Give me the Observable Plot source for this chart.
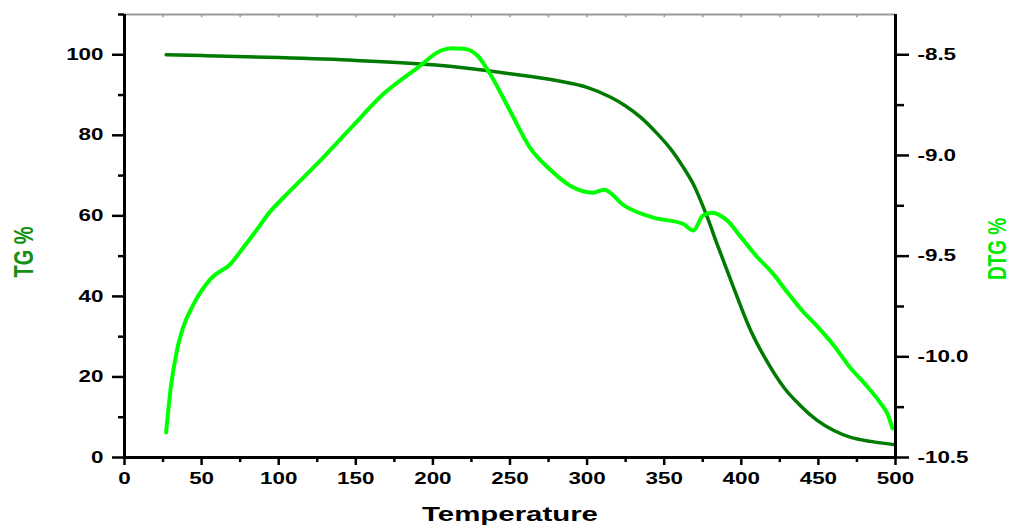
<!DOCTYPE html>
<html>
<head>
<meta charset="utf-8">
<script src="https://cdn.jsdelivr.net/npm/d3@7"></script>
<script src="https://cdn.jsdelivr.net/npm/@observablehq/plot@0.6"></script>
<style>
  html, body { margin: 0; padding: 0; background: #fff; }
</style>
</head>
<body>
<div id="chart"></div>
<script>
// TG curve (temperature, TG %)
const tgTemp = [27, 50, 100, 150, 200, 250, 280, 300, 315, 325, 335, 345, 355, 362, 369, 378, 384, 395, 406, 418, 428, 438, 449, 460, 471, 484, 499];
const tgVal  = [100, 99.8, 99.3, 98.6, 97.5, 95.3, 93.6, 91.9, 89.5, 87.3, 84.4, 80.6, 76.2, 72.3, 67.8, 59.6, 53.3, 42.2, 31.6, 23.0, 17.2, 13.0, 9.3, 6.7, 5.0, 4.0, 3.2];

// DTG curve (temperature, DTG %)
const dtgTemp = [27, 30, 34, 38, 45, 56, 69, 77, 84, 95, 103, 125, 147, 168, 190, 205, 212, 220, 229, 237, 250, 263, 276, 289, 304, 311, 324, 343, 362, 369, 375, 381, 391, 400, 410, 420, 430, 440, 450, 460, 470, 480, 490, 495, 498];
const dtgVal  = [-10.376, -10.153, -9.969, -9.855, -9.736, -9.612, -9.537, -9.458, -9.388, -9.274, -9.210, -9.041, -8.862, -8.694, -8.565, -8.480, -8.468, -8.470, -8.505, -8.594, -8.778, -8.962, -9.070, -9.150, -9.185, -9.170, -9.249, -9.309, -9.339, -9.373, -9.299, -9.284, -9.324, -9.408, -9.502, -9.582, -9.681, -9.775, -9.855, -9.944, -10.048, -10.133, -10.227, -10.287, -10.356];

// tick values
const xMajor = [0, 50, 100, 150, 200, 250, 300, 350, 400, 450, 500];
const xMinor = [25, 75, 125, 175, 225, 275, 325, 375, 425, 475];
const tgMajor = [0, 20, 40, 60, 80, 100];
const tgMinor = [10, 30, 50, 70, 90, 110];
const dtgMajor = [-10.5, -10.0, -9.5, -9.0, -8.5];
const dtgMinor = [-10.25, -9.75, -9.25, -8.75];

// DTG range mapped on the TG axis range
const dtgLo = -10.5, dtgHi = -8.3, tgLo = 0, tgHi = 110;
const toTG = d => (d - dtgLo) / (dtgHi - dtgLo) * (tgHi - tgLo) + tgLo;
const fromTG = t => (t - tgLo) / (tgHi - tgLo) * (dtgHi - dtgLo) + dtgLo;

const tgData = tgTemp.map((t, i) => ({t, v: tgVal[i]}));
const dtgData = dtgTemp.map((t, i) => ({t, v: toTG(dtgVal[i])}));

const chart = Plot.plot({
  width: 1012,
  height: 526,
  marginLeft: 124,
  marginRight: 117,
  marginTop: 14,
  marginBottom: 69,
  x: {domain: [0, 500]},
  y: {domain: [tgLo, tgHi]},
  style: {fontFamily: "'Liberation Sans', Arial, sans-serif", fontWeight: "bold", fontSize: "16px", color: "black", background: "white"},
  marks: [
    // top frame
    Plot.ruleY([tgHi], {stroke: "#9a9a9a", strokeWidth: 2}),
    Plot.ruleX(xMinor.concat(xMajor.slice(1, -1)), {x: d => d, y1: tgHi, y2: tgHi - 0.8, stroke: "#9a9a9a", strokeWidth: 1.5}),
    // curves
    Plot.line(tgData, {x: "t", y: "v", stroke: "#007a00", strokeWidth: 3.5, curve: "monotone-x"}),
    Plot.line(dtgData, {x: "t", y: "v", stroke: "#00ff00", strokeWidth: 4, curve: "monotone-x"}),
    // axis lines
    Plot.ruleY([tgLo], {stroke: "black", strokeWidth: 3}),
    Plot.ruleX([0], {stroke: "black", strokeWidth: 3}),
    Plot.ruleX([500], {stroke: "black", strokeWidth: 3}),
    // bottom axis
    Plot.axisX({ticks: xMajor, tickSize: 8, tickPadding: 7, strokeWidth: 2.5, tickFormat: d => String(d), label: null}),
    Plot.axisX({ticks: xMinor, tickSize: 5, strokeWidth: 2.5, tickFormat: () => "", label: null}),
    // left axis
    Plot.axisY({ticks: tgMajor, tickSize: 12, tickPadding: 9, strokeWidth: 2.5, tickFormat: d => String(d), label: null}),
    Plot.axisY({ticks: tgMinor, tickSize: 6, strokeWidth: 2.5, tickFormat: () => "", label: null}),
    // right axis (DTG)
    Plot.axisY({anchor: "right", ticks: dtgMajor.map(toTG), tickSize: 13, tickPadding: 9, strokeWidth: 2.5, tickFormat: t => fromTG(t).toFixed(1), label: null}),
    Plot.axisY({anchor: "right", ticks: dtgMinor.map(toTG), tickSize: 8, strokeWidth: 2.5, tickFormat: () => "", label: null}),
    // axis titles
    Plot.text(["Temperature"], {frameAnchor: "bottom", dy: 57, text: d => d, fontSize: 21, fontWeight: "bold", fill: "black", textAnchor: "middle", lineAnchor: "middle"}),
    Plot.text(["TG %"], {frameAnchor: "left", dx: -100, dy: 16, rotate: -90, text: d => d, fontSize: 20, fontWeight: "bold", fill: "#159015", textAnchor: "middle", lineAnchor: "middle"}),
    Plot.text(["DTG %"], {frameAnchor: "right", dx: 102, dy: 13, rotate: -90, text: d => d, fontSize: 19, fontWeight: "bold", fill: "#00e800", textAnchor: "middle", lineAnchor: "middle"})
  ]
});

// widen glyphs horizontally like the reference
d3.select(chart).selectAll("text").each(function() {
  const el = d3.select(this);
  let tr = el.attr("transform");
  if (!tr) {
    const x = +el.attr("x") || 0, y = +el.attr("y") || 0;
    el.attr("x", null).attr("y", null);
    tr = `translate(${x},${y})`;
  }
  const rotated = /rotate\(/.test(tr);
  el.attr("transform", tr + (rotated ? " scale(1,1.38)" : " scale(1.4,1)"));
});

document.getElementById("chart").appendChild(chart);
</script>
</body>
</html>
